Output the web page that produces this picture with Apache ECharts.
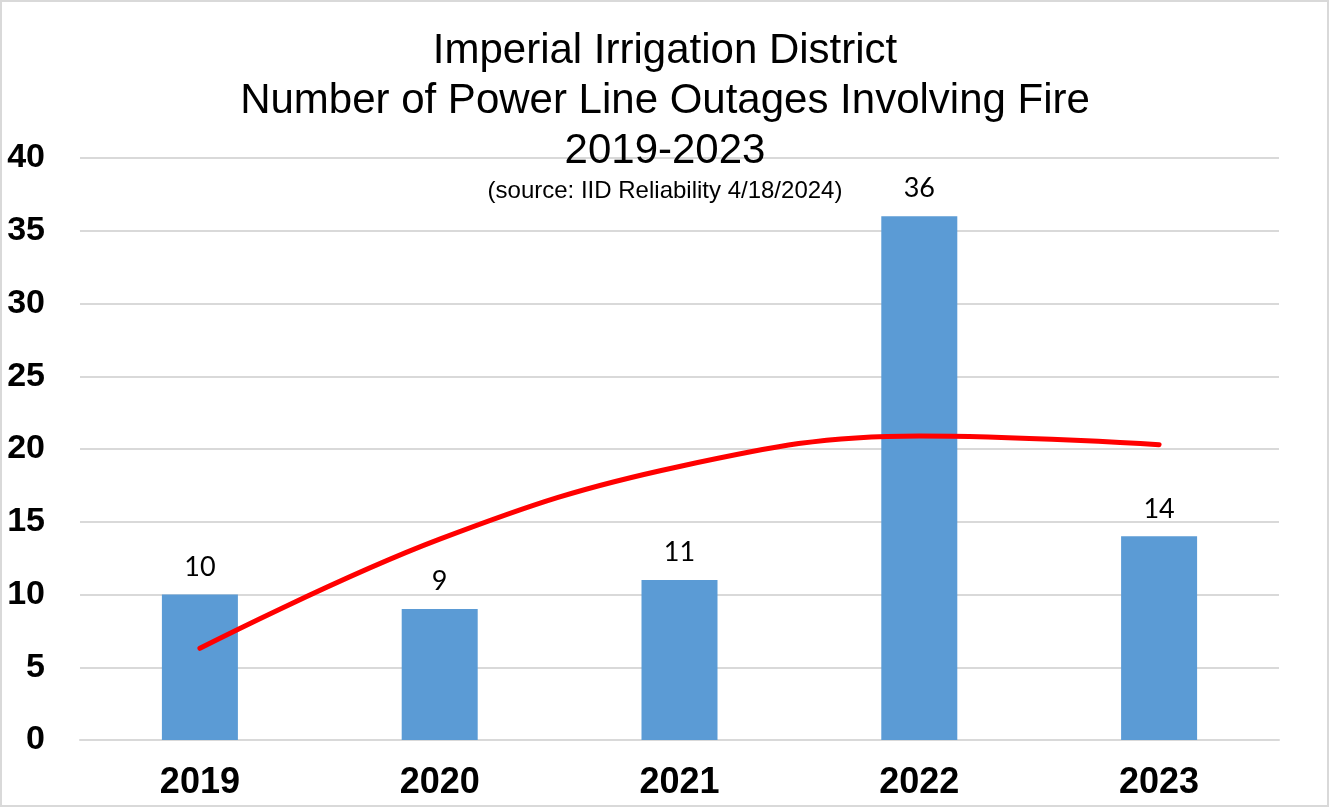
<!DOCTYPE html>
<html>
<head>
<meta charset="utf-8">
<script src="https://cdn.jsdelivr.net/npm/echarts@6/dist/echarts.min.js"></script>
<style>
html,body{margin:0;padding:0;background:#fff;}
#chart{width:1330px;height:808px;}
</style>
</head>
<body>
<div id="chart"></div>
<script>
const categories = ['2019', '2020', '2021', '2022', '2023'];
const outages = [10, 9, 11, 36, 14];
// polynomial trendline
const trend = [6.3, 13.8, 18.8, 20.9, 20.3];
const yTicks = { min: 0, max: 40, interval: 5 };
const titleText = 'Imperial Irrigation District\nNumber of Power Line Outages Involving Fire\n2019-2023';
const sourceText = '(source: IID Reliability 4/18/2024)';

const chart = echarts.init(document.getElementById('chart'), null, { renderer: 'canvas' });
chart.setOption({
  backgroundColor: '#ffffff',
  animation: false,
  title: [
    {
      text: titleText,
      left: 'center',
      top: 21,
      textStyle: { fontFamily: 'Liberation Sans, Arial, sans-serif', fontSize: 42, fontWeight: 'normal', color: '#000', lineHeight: 50 }
    },
    {
      text: sourceText,
      left: 'center',
      top: 174,
      textStyle: { fontFamily: 'Liberation Sans, Arial, sans-serif', fontSize: 24, fontWeight: 'normal', color: '#000' }
    }
  ],
  graphic: [
    { type: 'rect', shape: { x: 1, y: 1, width: 1327, height: 805 }, style: { fill: 'none', stroke: '#D9D9D9', lineWidth: 2 }, silent: true }
  ],
  grid: { left: 80, right: 51, top: 158, bottom: 68, containLabel: false },
  xAxis: {
    type: 'category',
    data: categories,
    axisLine: { show: true, lineStyle: { color: '#D9D9D9', width: 2 } },
    axisTick: { show: false },
    axisLabel: { fontFamily: 'Liberation Sans, Arial, sans-serif', fontSize: 36, fontWeight: 'bold', color: '#000', margin: 25 }
  },
  yAxis: {
    type: 'value',
    min: yTicks.min,
    max: yTicks.max,
    interval: yTicks.interval,
    axisLine: { show: false },
    axisTick: { show: false },
    splitLine: { lineStyle: { color: '#D9D9D9', width: 2 } },
    axisLabel: { fontFamily: 'Liberation Sans, Arial, sans-serif', fontSize: 34, fontWeight: 'bold', color: '#000', margin: 35 }
  },
  series: [
    {
      type: 'bar',
      data: outages,
      barWidth: 76,
      itemStyle: { color: '#5B9BD5' },
      label: { show: true, position: 'top', distance: 14, fontFamily: 'Lato, Open Sans, sans-serif', fontSize: 27, color: '#000' },
      z: 2
    },
    {
      type: 'line',
      data: trend,
      smooth: 0.4,
      symbol: 'none',
      lineStyle: { color: '#FF0000', width: 5, cap: 'round' },
      z: 3
    }
  ]
});
</script>
</body>
</html>
